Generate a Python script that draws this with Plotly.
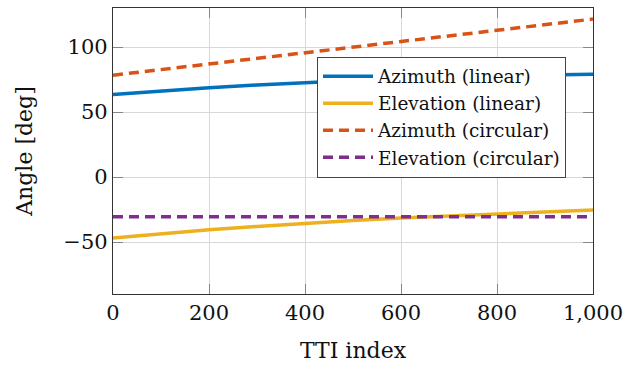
import plotly.graph_objects as go

tti = [0, 100, 200, 300, 400, 500, 600, 700, 800, 900, 1000]
az_lin = [63.5, 66.2, 68.7, 70.8, 72.7, 74.3, 75.7, 76.8, 77.8, 78.5, 79.0]
el_lin = [-47.0, -43.7, -40.6, -38.0, -35.5, -33.5, -31.6, -30.0, -28.6, -27.0, -25.3]
az_circ = [78.3, 82.6, 86.9, 91.2, 95.6, 99.9, 104.2, 108.5, 112.9, 117.2, 121.5]
el_circ = [-30.5, -30.5, -30.5, -30.5, -30.5, -30.5, -30.5, -30.5, -30.5, -30.5, -30.5]

names = ["Azimuth (linear)", "Elevation (linear)", "Azimuth (circular)", "Elevation (circular)"]
colors = ["#0072BD", "#EDB120", "#D95319", "#7E2F8E"]
dashes = ["solid", "solid", "10px,6px", "10px,6px"]
series = [az_lin, el_lin, az_circ, el_circ]

fig = go.Figure()
for name, col, dash, ys in zip(names, colors, dashes, series):
    fig.add_trace(go.Scatter(x=tti, y=ys, mode="lines", name=name,
                             line=dict(color=col, width=3.5, dash=dash)))

ff = "DejaVu Serif"
axis_common = dict(
    showline=True, linecolor="#333333", linewidth=1.2, mirror="ticks",
    showgrid=True, gridcolor="#d8d8d8", gridwidth=1,
    ticks="inside", ticklen=10, tickcolor="#888888", tickwidth=1.2,
    zeroline=False, tickfont=dict(family=ff, size=21, color="#111111"),
    title_font=dict(family=ff, size=22, color="#111111"),
)

fig.update_layout(
    width=636, height=366,
    margin=dict(l=113, r=43, t=7, b=71),
    plot_bgcolor="white", paper_bgcolor="white",
    font=dict(family=ff, color="#111111"),
    showlegend=True,
    legend=dict(x=0.425, y=0.83, xanchor="left", yanchor="top",
                bgcolor="white", bordercolor="#444444", borderwidth=1,
                font=dict(family=ff, size=18.5, color="#111111"),
                itemwidth=50, tracegroupgap=0),
    xaxis=dict(range=[0, 1000], tickvals=[0, 200, 400, 600, 800, 1000],
               tickformat=",", title=dict(text="TTI index", standoff=18), **axis_common),
    yaxis=dict(range=[-90, 130], tickvals=[-50, 0, 50, 100],
               title=dict(text="Angle [deg]", standoff=24), **axis_common),
)

fig.write_html("out.html")
